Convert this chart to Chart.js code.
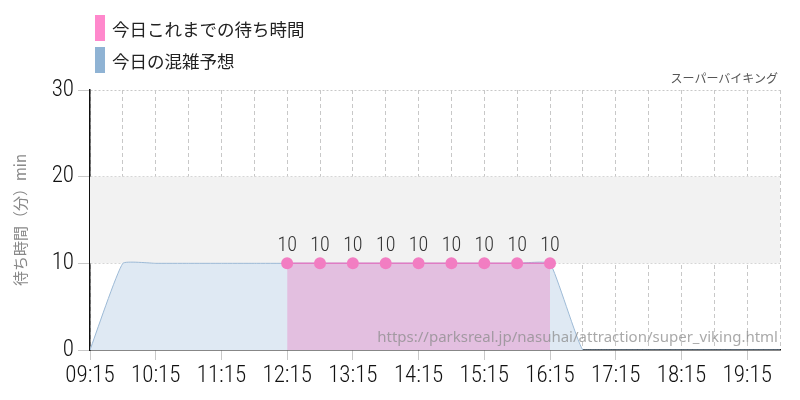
<!DOCTYPE html>
<html>
<head>
<meta charset="utf-8">
<script src="https://cdn.jsdelivr.net/npm/chart.js@4"></script>
<style>
    body { margin: 0; background: #fff; }
    #wrap { position: relative; width: 800px; height: 400px; }
    .legend { position: absolute; left: 95px; font-family: 'Noto Sans CJK JP', sans-serif; font-size: 17.5px; color: #222; display: flex; align-items: center; }
    .legend span.box { display: inline-block; width: 10px; height: 26px; margin-right: 7px; }
    #ride { position: absolute; right: 22px; top: 69px; font-family: 'Noto Sans CJK JP', sans-serif; font-size: 12px; color: #555; }
    #url { position: absolute; right: 22px; top: 326px; font-family: 'Noto Sans', sans-serif; font-size: 15px; color: rgba(140, 140, 140, 0.75); }
</style>
</head>
<body>
<div id="wrap">
    <canvas id="grafica"></canvas>
    <div class="legend" style="top:15px"><span class="box" style="background:#ff88cc"></span>今日これまでの待ち時間</div>
    <div class="legend" style="top:47px"><span class="box" style="background:#8fb3d4"></span>今日の混雑予想</div>
    <div id="ride">スーパーバイキング</div>
    <div id="url">https://parksreal.jp/nasuhai/attraction/super_viking.html</div>
</div>
<script>
// 混雑予想 (30分ごと)
const horasPrevision = ['09:15', '09:45', '10:15', '10:45', '11:15', '11:45', '12:15', '12:45',
    '13:15', '13:45', '14:15', '14:45', '15:15', '15:45', '16:15', '16:45', '17:15', '17:45',
    '18:15', '18:45', '19:15', '19:45'];
const valoresPrevision = [0, 10, 10, 10, 10, 10, 10, 10, 10, 10, 10, 10, 10, 10, 10, 0, 0, 0, 0, 0, 0, 0];

// これまでの待ち時間
const horasEspera = ['12:15', '12:45', '13:15', '13:45', '14:15', '14:45', '15:15', '15:45', '16:15'];
const valoresEspera = [10, 10, 10, 10, 10, 10, 10, 10, 10];

const FUENTE_NUM = "'Roboto Condensed', 'Liberation Sans Narrow', 'DejaVu Sans Condensed', sans-serif";

function aMinutos(h) {
    const [hh, mm] = h.split(':').map(Number);
    return hh * 60 + mm;
}
function aHora(m) {
    const hh = Math.floor(m / 60);
    const mm = m % 60;
    return String(hh).padStart(2, '0') + ':' + String(mm).padStart(2, '0');
}

const inicio = aMinutos(horasPrevision[0]);
const fin = aMinutos(horasPrevision[horasPrevision.length - 1]);

// banda gris entre 10 y 20
const banda = {
    id: 'banda',
    beforeDatasetsDraw(chart) {
        const { ctx, chartArea, scales } = chart;
        const y1 = scales.y.getPixelForValue(20);
        const y2 = scales.y.getPixelForValue(10);
        ctx.save();
        ctx.fillStyle = '#f2f2f2';
        ctx.fillRect(chartArea.left, y1, chartArea.right - chartArea.left, y2 - y1);
        ctx.restore();
    }
};

// etiquetas sobre los puntos
const etiquetas = {
    id: 'etiquetas',
    afterDatasetsDraw(chart) {
        const ctx = chart.ctx;
        const meta = chart.getDatasetMeta(0);
        ctx.save();
        ctx.font = '300 20px ' + FUENTE_NUM;
        ctx.fillStyle = '#333';
        ctx.textAlign = 'center';
        ctx.textBaseline = 'alphabetic';
        meta.data.forEach((p, i) => {
            ctx.fillText(String(valoresEspera[i]), p.x, p.y - 12);
        });
        ctx.restore();
    }
};

new Chart(document.getElementById('grafica'), {
    type: 'line',
    data: {
        datasets: [
            {
                label: '今日これまでの待ち時間',
                data: horasEspera.map((h, i) => ({ x: aMinutos(h), y: valoresEspera[i] })),
                borderColor: '#e07cc4',
                borderWidth: 1.5,
                backgroundColor: 'rgba(232, 150, 205, 0.5)',
                fill: 'origin',
                pointRadius: 6,
                pointBackgroundColor: '#f27dc2',
                pointBorderWidth: 0,
                tension: 0,
                order: 0
            },
            {
                label: '今日の混雑予想',
                data: horasPrevision.map((h, i) => ({ x: aMinutos(h), y: valoresPrevision[i] })),
                borderColor: '#9dbad6',
                borderWidth: 1,
                backgroundColor: '#dfe9f3',
                fill: 'origin',
                pointRadius: 0,
                tension: 0.12,
                order: 1
            }
        ]
    },
    options: {
        responsive: true,
        maintainAspectRatio: false,
        animation: false,
        layout: { padding: { top: 90, right: 20, left: 0, bottom: 0 } },
        plugins: {
            legend: { display: false },
            tooltip: { enabled: false }
        },
        scales: {
            x: {
                type: 'linear',
                min: inicio,
                max: fin,
                afterFit: s => { s.height = 50; },
                ticks: {
                    stepSize: 30,
                    autoSkip: false,
                    maxRotation: 0,
                    padding: 2,
                    color: '#111',
                    font: { family: FUENTE_NUM, size: 23, weight: '300' },
                    callback: v => ((v - inicio) % 60 === 0 ? aHora(v) : '')
                },
                grid: {
                    color: '#c8c8c8',
                    tickLength: 10,
                    tickColor: c => (c.tick && (c.tick.value - inicio) % 60 === 0 ? '#c8c8c8' : 'rgba(0,0,0,0)')
                },
                border: { color: '#111', width: 1.5, dash: [4, 3] }
            },
            y: {
                min: 0,
                max: 30,
                afterFit: s => { s.width = 90; },
                ticks: {
                    stepSize: 10,
                    padding: 4,
                    color: '#111',
                    font: { family: FUENTE_NUM, size: 23, weight: '300' }
                },
                grid: {
                    color: c => (c.tick && c.tick.value === 0 ? 'rgba(0,0,0,0)' : '#c8c8c8'),
                    tickColor: '#c8c8c8',
                    tickLength: 12
                },
                border: { color: '#111', width: 1.5, dash: [2, 2] },
                title: {
                    display: true,
                    text: '待ち時間（分）min',
                    color: '#888',
                    padding: { top: 11, bottom: 0 },
                    font: { family: "'Noto Sans CJK JP', sans-serif", size: 15 }
                }
            }
        }
    },
    plugins: [banda, etiquetas]
});
</script>
</body>
</html>
